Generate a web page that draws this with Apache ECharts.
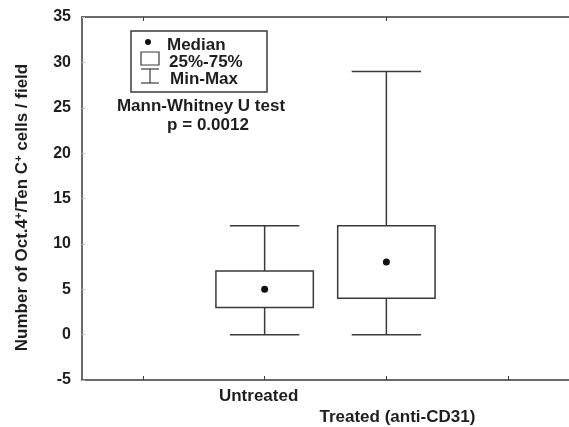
<!DOCTYPE html>
<html>
<head>
<meta charset="utf-8">
<script src="https://cdn.jsdelivr.net/npm/echarts@6/dist/echarts.min.js"></script>
<style>html,body{margin:0;padding:0;background:#fff;}#c{width:569px;height:427px;}</style>
</head>
<body>
<div id="c"></div>
<script>
// Data
var categories = [' ', 'Untreated', 'Treated (anti-CD31)', '  '];
var groupIndex = [1, 2];
var mins = [0, 0];
var q1s = [3, 4];
var medians = [5, 8];
var q3s = [7, 12];
var maxs = [12, 29];
var yTicks = { min: -5, max: 35, interval: 5 };

var FONT = '"Liberation Sans", Arial, sans-serif';
var INK = '#1e1e1e';
var LINE = '#3a3a3a';

var boxData = groupIndex.map(function (g, i) {
  return [g, mins[i], q1s[i], medians[i], q3s[i], maxs[i]];
});

var chart = echarts.init(document.getElementById('c'), null, { renderer: 'canvas' });

function renderBox(params, api) {
  var x = api.value(0);
  var pMin = api.coord([x, api.value(1)]);
  var pQ1 = api.coord([x, api.value(2)]);
  var pMed = api.coord([x, api.value(3)]);
  var pQ3 = api.coord([x, api.value(4)]);
  var pMax = api.coord([x, api.value(5)]);
  var band = api.size([1, 0])[0];
  var bw = band * 0.8;
  var cw = band * 0.57;
  var cx = pMed[0];
  var st = { stroke: LINE, lineWidth: 1.5, fill: null };
  return {
    type: 'group',
    children: [
      { type: 'line', shape: { x1: cx, y1: pMin[1], x2: cx, y2: pQ1[1] }, style: st },
      { type: 'line', shape: { x1: cx, y1: pQ3[1], x2: cx, y2: pMax[1] }, style: st },
      { type: 'line', shape: { x1: cx - cw / 2, y1: pMin[1], x2: cx + cw / 2, y2: pMin[1] }, style: st },
      { type: 'line', shape: { x1: cx - cw / 2, y1: pMax[1], x2: cx + cw / 2, y2: pMax[1] }, style: st },
      { type: 'rect', shape: { x: cx - bw / 2, y: pQ3[1], width: bw, height: pQ1[1] - pQ3[1] }, style: { stroke: LINE, lineWidth: 1.5, fill: '#fff' } },
      { type: 'circle', shape: { cx: cx, cy: pMed[1], r: 3.5 }, style: { fill: '#111', stroke: null } }
    ]
  };
}

var txt = function (x, y, text, align, size) {
  return {
    type: 'text', x: x, y: y,
    style: { text: text, font: 'bold ' + (size || 17) + 'px ' + FONT, fill: INK, align: align || 'left', verticalAlign: 'middle' }
  };
};

var option = {
  backgroundColor: '#fff',
  animation: false,
  grid: { left: 82, right: -4, top: 17, bottom: 47 },
  xAxis: [{
    type: 'category',
    data: categories,
    position: 'bottom',
    axisLine: { show: true, onZero: false, lineStyle: { color: LINE, width: 1.5 } },
    axisTick: { show: true, inside: true, alignWithLabel: true, length: 4, lineStyle: { color: LINE } },
    splitLine: { show: false },
    axisLabel: {
      interval: 0,
      margin: 8,
      formatter: function (v) {
        if (v === 'Treated (anti-CD31)') return '{t|' + v + '}';
        return '{u|' + v + '}';
      },
      rich: {
        u: { fontFamily: FONT, fontWeight: 'bold', fontSize: 17, color: INK, padding: [0, 12, 0, 0] },
        t: { fontFamily: FONT, fontWeight: 'bold', fontSize: 17, color: INK, padding: [21, 0, 0, 22] }
      }
    }
  }, {
    type: 'category',
    data: categories,
    position: 'top',
    axisLine: { show: true, onZero: false, lineStyle: { color: LINE, width: 1.5 } },
    axisTick: { show: true, inside: true, alignWithLabel: true, length: 4, lineStyle: { color: LINE } },
    axisLabel: { show: false }
  }],
  yAxis: {
    type: 'value',
    min: yTicks.min,
    max: yTicks.max,
    interval: yTicks.interval,
    name: 'Number of Oct.4{s|+}/Ten C{s|+} cells / field',
    nameLocation: 'middle',
    nameGap: 50,
    nameTextStyle: {
      fontFamily: FONT, fontWeight: 'bold', fontSize: 17, color: INK,
      padding: [0, 18, 0, 0],
      rich: { s: { fontFamily: FONT, fontWeight: 'bold', fontSize: 11, color: INK, verticalAlign: 'top', padding: [0, 0, 8, 0] } }
    },
    axisLine: { show: true, lineStyle: { color: LINE, width: 1.5 } },
    axisTick: { show: true, inside: true, length: 3, lineStyle: { color: '#bbb' } },
    splitLine: { show: false },
    axisLabel: { fontFamily: FONT, fontWeight: 'bold', fontSize: 16, color: INK, margin: 11 }
  },
  graphic: [
    { type: 'rect', shape: { x: 131, y: 31, width: 136, height: 61 }, style: { stroke: LINE, lineWidth: 1.5, fill: '#fff' } },
    { type: 'circle', shape: { cx: 148, cy: 42, r: 3 }, style: { fill: '#111' } },
    txt(167, 45, 'Median'),
    { type: 'rect', shape: { x: 141, y: 52, width: 18, height: 13 }, style: { stroke: LINE, lineWidth: 1.2, fill: '#fff' } },
    txt(169, 62, '25%-75%'),
    { type: 'line', shape: { x1: 141, y1: 69, x2: 159, y2: 69 }, style: { stroke: LINE, lineWidth: 1.2 } },
    { type: 'line', shape: { x1: 150, y1: 69, x2: 150, y2: 83 }, style: { stroke: LINE, lineWidth: 1.2 } },
    { type: 'line', shape: { x1: 141, y1: 83, x2: 159, y2: 83 }, style: { stroke: LINE, lineWidth: 1.2 } },
    txt(170, 79, 'Min-Max'),
    txt(201, 106, 'Mann-Whitney U test', 'center'),
    txt(208, 125, 'p = 0.0012', 'center')
  ],
  series: [{
    type: 'custom',
    renderItem: renderBox,
    encode: { x: 0, y: [1, 2, 3, 4, 5] },
    data: boxData,
    z: 5
  }]
};
chart.setOption(option);
</script>
</body>
</html>
